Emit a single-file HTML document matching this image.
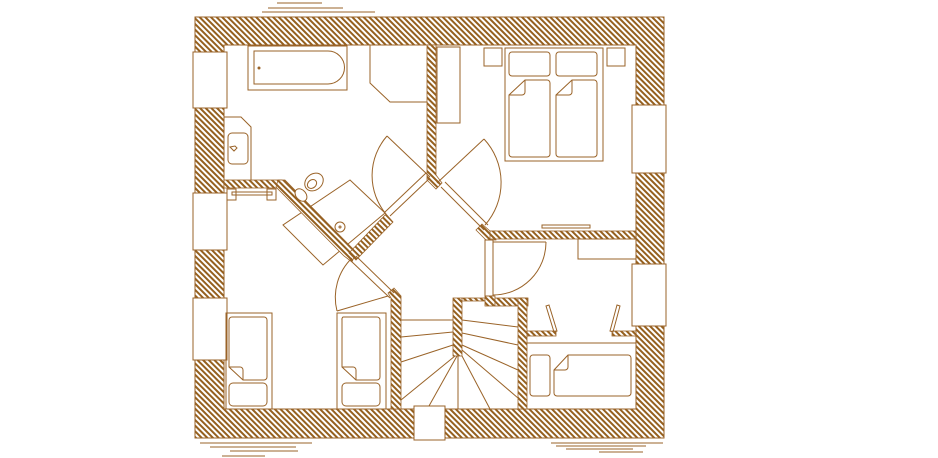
<!DOCTYPE html>
<html><head><meta charset="utf-8"><style>html,body{margin:0;padding:0;background:#fff;width:938px;height:458px;overflow:hidden}</style></head>
<body>
<svg width="938" height="458" viewBox="0 0 938 458" xmlns="http://www.w3.org/2000/svg">
<defs>
<pattern id="h" width="4" height="4" patternUnits="userSpaceOnUse" patternTransform="rotate(-45)">
<rect width="4" height="4" fill="#fff"/>
<rect width="2" height="4" fill="#95601f"/>
</pattern>
</defs>
<g fill="none" stroke="#9a6328" stroke-width="1">
<line x1="277" y1="3" x2="322" y2="3"/><line x1="268" y1="8" x2="343" y2="8"/><line x1="262" y1="12" x2="375" y2="12"/>
<line x1="200" y1="443" x2="312" y2="443"/><line x1="210" y1="447" x2="296" y2="447"/><line x1="230" y1="451" x2="298" y2="451"/><line x1="222" y1="456" x2="265" y2="456"/>
<line x1="551" y1="443" x2="663" y2="443"/><line x1="556" y1="446" x2="646" y2="446"/><line x1="566" y1="449" x2="633" y2="449"/><line x1="599" y1="452" x2="643" y2="452"/>
</g>
<path d="M195 17H664V438H195Z M224 45V409H636V45Z" fill="url(#h)" fill-rule="evenodd" stroke="#9a6328" stroke-width="1"/>
<g fill="none" stroke="#9a6328" stroke-width="1">
<!-- washbasin unit -->
<polygon points="350,180 385,213 323,265 283,225" fill="#fff"/>
<circle cx="340" cy="227" r="5" fill="#fff"/><circle cx="340" cy="227" r="1"/>
</g>
<g fill="url(#h)" stroke="#9a6328" stroke-width="0.8">
<polygon points="427,45 436,45 436,175 442,183 436,189 427,180"/>
<rect x="224" y="180" width="58" height="8"/>
<polygon points="278,180 285,180 356,252 352,262 344,256 276,187"/>
<polygon points="386,214 393,222 356,260 349,253"/>
<polygon points="482,224 490,231 496,231 496,240 486,240 476,230"/>
<rect x="490" y="231" width="146" height="8"/>
<polygon points="388,293 394,288 401,296 401,409 391,409 391,298"/>
<rect x="453" y="298" width="9" height="58"/>
<rect x="462" y="298" width="23" height="3"/>
<rect x="485" y="296" width="10" height="10"/>
<rect x="495" y="298" width="33" height="8"/>
<rect x="518" y="298" width="9" height="111"/>
<rect x="527" y="331" width="29" height="5"/>
<rect x="612" y="331" width="24" height="5"/>
</g>
<g fill="#fff" stroke="#9a6328" stroke-width="1">
<rect x="193" y="52" width="34" height="56"/>
<rect x="193" y="193" width="34" height="57"/>
<rect x="193" y="298" width="34" height="62"/>
<rect x="632" y="105" width="34" height="68"/>
<rect x="632" y="264" width="34" height="62"/>
<rect x="414" y="406" width="31" height="34"/>
</g>
<g fill="none" stroke="#9a6328" stroke-width="1">
<rect x="248" y="46" width="99" height="44"/>
<path d="M254 51H328A16 16 0 0 1 328 84H254Z"/>
<circle cx="259" cy="68" r="1" fill="#9a6328"/>
<path d="M370 45V83L390 102H427"/>
<path d="M224 117H241L251 127V180"/>
<rect x="228" y="133" width="20" height="31" rx="4"/>
<path d="M230 147l5 -1 2 2 -3 3z"/>
<rect x="227" y="189" width="9" height="11"/><rect x="267" y="189" width="9" height="11"/>
<rect x="232" y="192" width="40" height="3"/>
<ellipse cx="314" cy="182" rx="10" ry="8" transform="rotate(-40 314 182)" fill="#fff"/>
<ellipse cx="312" cy="184" rx="5" ry="4" transform="rotate(-40 312 184)"/>
<ellipse cx="301" cy="195" rx="5" ry="7" transform="rotate(-40 301 195)" fill="#fff"/>
<line x1="387" y1="136" x2="430" y2="177"/>
<path d="M387 136A60 60 0 0 0 386 214"/>
<line x1="390" y1="216" x2="430" y2="178"/><line x1="385" y1="212" x2="426" y2="173"/>
<line x1="437" y1="183" x2="484" y2="139"/>
<path d="M484 139A64 64 0 0 1 485 225"/>
<line x1="441" y1="187" x2="484" y2="230"/><line x1="445" y1="182" x2="488" y2="225"/>
<line x1="337" y1="311" x2="388" y2="296"/>
<path d="M352 258A55 55 0 0 0 337 311"/>
<line x1="350" y1="260" x2="390" y2="298"/><line x1="356" y1="256" x2="394" y2="293"/>
<rect x="437" y="47" width="23" height="76"/>
<rect x="484" y="48" width="18" height="18"/><rect x="607" y="48" width="18" height="18"/>
<rect x="505" y="48" width="98" height="113"/>
<rect x="509" y="52" width="41" height="24" rx="3"/><rect x="556" y="52" width="41" height="24" rx="3"/>
<path d="M525 80H547A3 3 0 0 1 550 83V154A3 3 0 0 1 547 157H512A3 3 0 0 1 509 154V95Z M509 95H522A3 3 0 0 0 525 92V80"/>
<path d="M572 80H594A3 3 0 0 1 597 83V154A3 3 0 0 1 594 157H559A3 3 0 0 1 556 154V95Z M556 95H569A3 3 0 0 0 572 92V80"/>
<rect x="542" y="225" width="48" height="3"/>
<rect x="485" y="240" width="8" height="56"/>
<line x1="493" y1="242" x2="546" y2="242"/>
<path d="M546 242A53 53 0 0 1 493 295"/>
<rect x="578" y="239" width="58" height="20"/>
<polygon points="546,306 549,305 557,331 554,332"/>
<polygon points="617,305 620,306 613,332 610,331"/>
<line x1="527" y1="343" x2="636" y2="343"/>
<rect x="530" y="355" width="20" height="41" rx="3"/>
<path d="M568 355H628A3 3 0 0 1 631 358V393A3 3 0 0 1 628 396H557A3 3 0 0 1 554 393V370Z M554 370H565A3 3 0 0 0 568 367V355"/>
<rect x="226" y="313" width="46" height="96"/>
<path d="M232 317H264A3 3 0 0 1 267 320V377A3 3 0 0 1 264 380H243L229 367V320A3 3 0 0 1 232 317Z M229 367H240A3 3 0 0 1 243 370V380"/>
<rect x="229" y="383" width="38" height="23" rx="4"/>
<rect x="337" y="313" width="49" height="96"/>
<path d="M343 317H377A3 3 0 0 1 380 320V377A3 3 0 0 1 377 380H356L342 367V320A3 3 0 0 1 343 317Z M342 367H353A3 3 0 0 1 356 370V380"/>
<rect x="342" y="383" width="38" height="23" rx="4"/>
<line x1="401" y1="320" x2="453" y2="320"/>
<line x1="401" y1="337" x2="453" y2="332"/>
<line x1="401" y1="362" x2="453" y2="345"/>
<line x1="401" y1="400" x2="455" y2="356"/>
<line x1="429" y1="406" x2="457" y2="356"/>
<line x1="458" y1="356" x2="458" y2="409"/>
<line x1="462" y1="356" x2="490" y2="409"/>
<line x1="462" y1="350" x2="518" y2="398"/>
<line x1="462" y1="345" x2="518" y2="370"/>
<line x1="462" y1="333" x2="518" y2="345"/>
<line x1="462" y1="320" x2="518" y2="327"/>
</g>
</svg>
</body></html>
